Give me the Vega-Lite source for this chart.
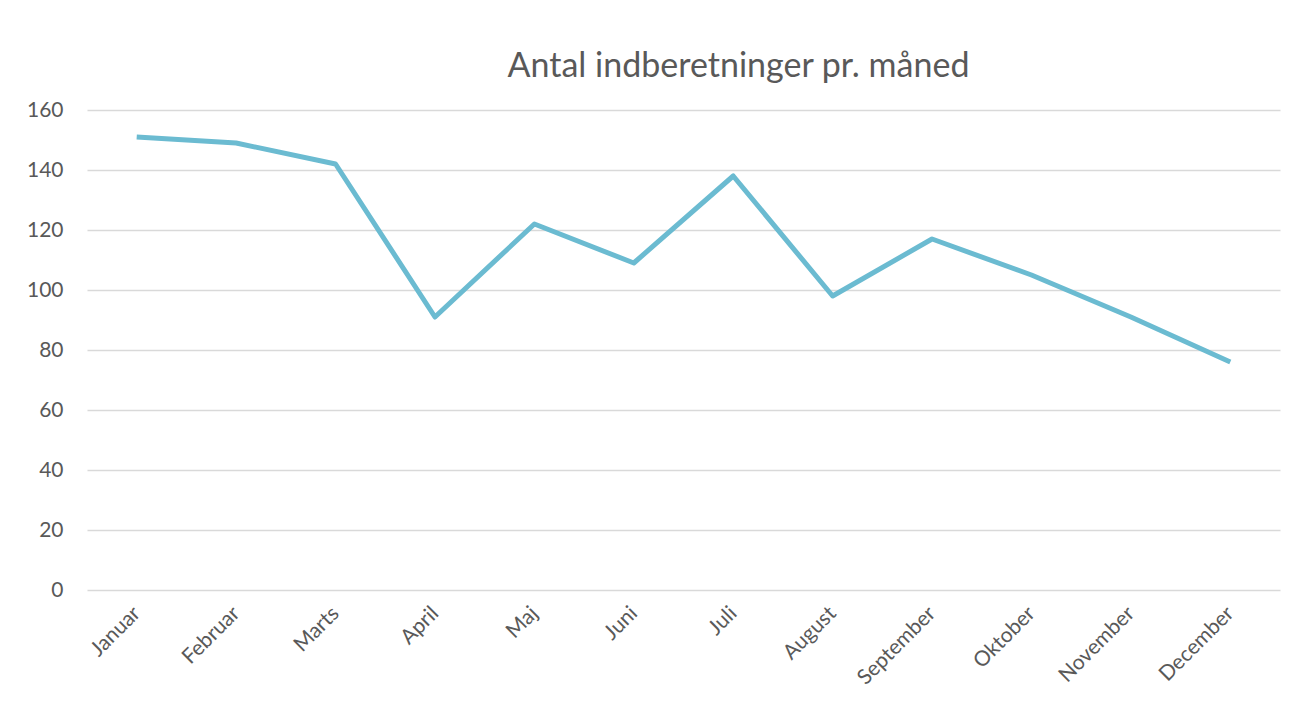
{
  "$schema": "https://vega.github.io/schema/vega-lite/v6.json",
  "width": 1193,
  "height": 480,
  "autosize": {"type": "none"},
  "padding": {"left": 87, "top": 110, "right": 19, "bottom": 123},
  "background": "white",
  "title": {
    "text": "Antal indberetninger pr. måned",
    "font": "Lato",
    "fontSize": 34,
    "fontWeight": "normal",
    "color": "#595959",
    "anchor": "middle",
    "dx": 55,
    "offset": 15
  },
  "data": {
    "values": [
      {"month": "Januar", "count": 151},
      {"month": "Februar", "count": 149},
      {"month": "Marts", "count": 142},
      {"month": "April", "count": 91},
      {"month": "Maj", "count": 122},
      {"month": "Juni", "count": 109},
      {"month": "Juli", "count": 138},
      {"month": "August", "count": 98},
      {"month": "September", "count": 117},
      {"month": "Oktober", "count": 105},
      {"month": "November", "count": 91},
      {"month": "December", "count": 76}
    ]
  },
  "mark": {"type": "line", "color": "#6BBBD1", "strokeWidth": 5, "strokeJoin": "round", "strokeCap": "butt"},
  "encoding": {
    "x": {
      "field": "month",
      "type": "nominal",
      "sort": null,
      "scale": {"type": "point", "padding": 0.5},
      "axis": {
        "title": null,
        "domain": false,
        "ticks": false,
        "grid": false,
        "labelAngle": -45,
        "labelAlign": "right",
        "labelBaseline": "middle",
        "labelPadding": 20,
        "labelFont": "Lato",
        "labelFontSize": 21,
        "labelColor": "#595959"
      }
    },
    "y": {
      "field": "count",
      "type": "quantitative",
      "scale": {"domain": [0, 160], "nice": false},
      "axis": {
        "title": null,
        "values": [0, 20, 40, 60, 80, 100, 120, 140, 160],
        "domain": false,
        "ticks": false,
        "grid": true,
        "gridColor": "#D9D9D9",
        "gridWidth": 1.3,
        "labelPadding": 24,
        "labelFont": "Lato",
        "labelFontSize": 21,
        "labelColor": "#595959"
      }
    }
  },
  "config": {"view": {"stroke": null}}
}
